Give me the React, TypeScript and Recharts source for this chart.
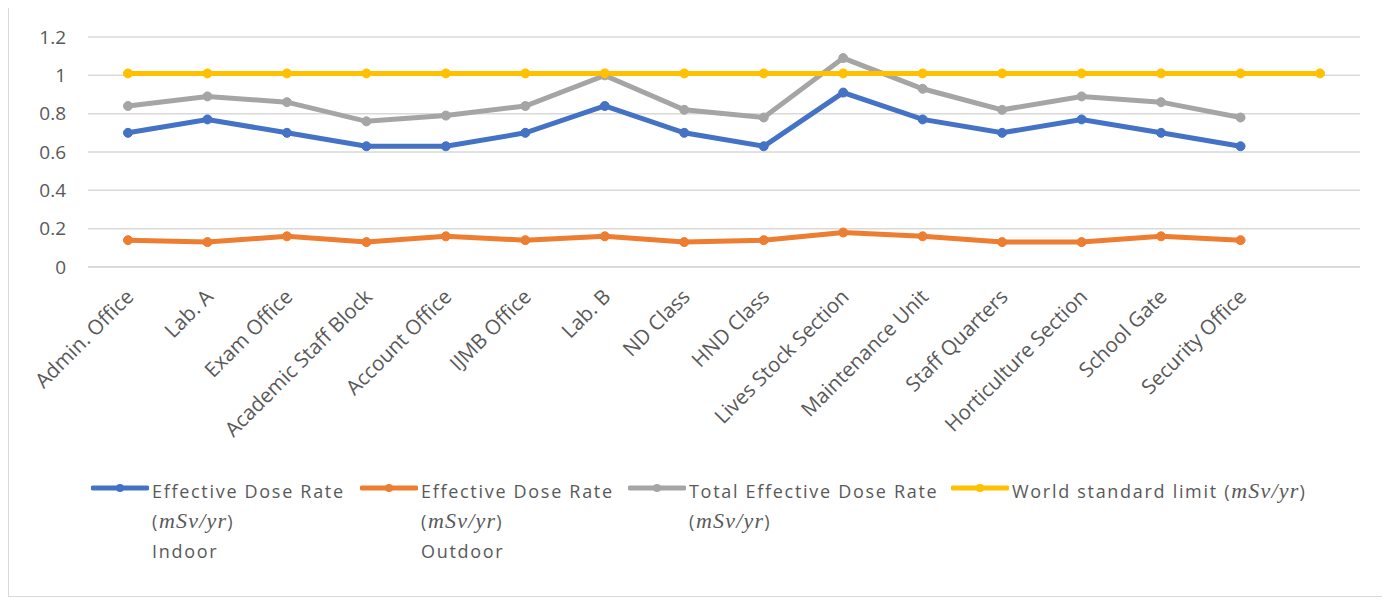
import { LineChart, Line, XAxis, YAxis, CartesianGrid, Legend } from "recharts";

const categories = [
  "Admin. Office",
  "Lab. A",
  "Exam Office",
  "Academic Staff Block",
  "Account Office",
  "IJMB Office",
  "Lab. B",
  "ND Class",
  "HND Class",
  "Lives Stock Section",
  "Maintenance Unit",
  "Staff Quarters",
  "Horticulture Section",
  "School Gate",
  "Security Office",
  "",
];

const indoor = [0.7, 0.77, 0.7, 0.63, 0.63, 0.7, 0.84, 0.7, 0.63, 0.91, 0.77, 0.7, 0.77, 0.7, 0.63, null];
const outdoor = [0.14, 0.13, 0.16, 0.13, 0.16, 0.14, 0.16, 0.13, 0.14, 0.18, 0.16, 0.13, 0.13, 0.16, 0.14, null];
const total = [0.84, 0.89, 0.86, 0.76, 0.79, 0.84, 1.0, 0.82, 0.78, 1.09, 0.93, 0.82, 0.89, 0.86, 0.78, null];
const limit = [1.01, 1.01, 1.01, 1.01, 1.01, 1.01, 1.01, 1.01, 1.01, 1.01, 1.01, 1.01, 1.01, 1.01, 1.01, 1.01];

const yTicks = [0, 0.2, 0.4, 0.6, 0.8, 1, 1.2];

const series = [
  { key: "indoor", color: "#4472c4", lines: ["Effective Dose Rate", "unit", "Indoor"], left: 82 },
  { key: "outdoor", color: "#ed7d31", lines: ["Effective Dose Rate", "unit", "Outdoor"], left: 351 },
  { key: "total", color: "#a5a5a5", lines: ["Total Effective Dose Rate", "unit"], left: 619 },
  { key: "limit", color: "#ffc000", lines: ["World standard limit unit"], left: 942 },
];

const data = categories.map((c, i) => ({
  category: c,
  indoor: indoor[i],
  outdoor: outdoor[i],
  total: total[i],
  limit: limit[i],
}));

const font = "'Open Sans', 'Liberation Sans', sans-serif";
const serif = "'Liberation Serif', 'DejaVu Serif', serif";
const textColor = "#595959";

function Unit() {
  return (
    <span>
      (
      <span style={{ fontFamily: serif, fontStyle: "italic", fontSize: 22, letterSpacing: 1.2 }}>
        mSv/yr
      </span>
      )
    </span>
  );
}

function renderLine(text: string) {
  if (text === "unit") return <Unit />;
  if (text.endsWith(" unit")) {
    return (
      <span>
        {text.replace(" unit", " ")}
        <Unit />
      </span>
    );
  }
  return text;
}

function LegendContent() {
  return (
    <div
      style={{
        position: "relative",
        width: 1378,
        height: 90,
        fontFamily: font,
        fontSize: 18,
        letterSpacing: 1.7,
        color: textColor,
      }}
    >
      {series.map((s) => (
        <div key={s.key} style={{ position: "absolute", left: s.left, top: 0, display: "flex" }}>
          <svg width={58} height={30} style={{ flex: "none" }}>
            <line x1={2} x2={56} y1={10} y2={10} stroke={s.color} strokeWidth={5} strokeLinecap="round" />
            <circle cx={29} cy={10} r={4} fill={s.color} />
          </svg>
          <div style={{ marginLeft: 3, lineHeight: "30px", marginTop: -2 }}>
            {s.lines.map((l, i) => (
              <div key={i} style={{ whiteSpace: "nowrap" }}>{renderLine(l)}</div>
            ))}
          </div>
        </div>
      ))}
    </div>
  );
}

function XTick(props: any) {
  const { x, payload } = props;
  return (
    <g transform={`translate(${x + 7},${298})`}>
      <text x={0} y={0} textAnchor="end" transform="rotate(-45)" fill={textColor} fontSize={20.5} fontFamily={font}>
        {payload.value}
      </text>
    </g>
  );
}

export default function App() {
  return (
    <div
      style={{
        width: 1378,
        height: 596,
        marginTop: -8,
        borderLeft: "1.5px solid #d9d9d9",
        borderRight: "1.5px solid #d9d9d9",
        borderBottom: "1.5px solid #d9d9d9",
        background: "#fff",
      }}
    >
      <LineChart width={1378} height={596} data={data} margin={{ top: 37, right: 27, bottom: 28, left: 0 }}>
        <CartesianGrid vertical={false} stroke="#d9d9d9" strokeWidth={1.5} />
        <XAxis
          dataKey="category"
          interval={0}
          height={211}
          padding={{ left: 40, right: 40 }}
          tick={<XTick />}
          tickLine={false}
          axisLine={{ stroke: "#d9d9d9", strokeWidth: 1.5 }}
        />
        <YAxis
          width={79}
          domain={[0, 1.2]}
          ticks={yTicks}
          tickLine={false}
          axisLine={false}
          tickMargin={16}
          tick={{ fill: textColor, fontSize: 19, fontFamily: font }}
        />
        <Legend
          verticalAlign="bottom"
          content={<LegendContent />}
          wrapperStyle={{ position: "absolute", top: 478, left: 0, bottom: "auto", width: 1378, height: 90 }}
        />
        {series.map((s) => (
          <Line
            key={s.key}
            dataKey={s.key}
            stroke={s.color}
            strokeWidth={5}
            dot={{ r: 4.5, fill: s.color, stroke: s.color, strokeWidth: 1 }}
            isAnimationActive={false}
            connectNulls={false}
          />
        ))}
      </LineChart>
    </div>
  );
}
